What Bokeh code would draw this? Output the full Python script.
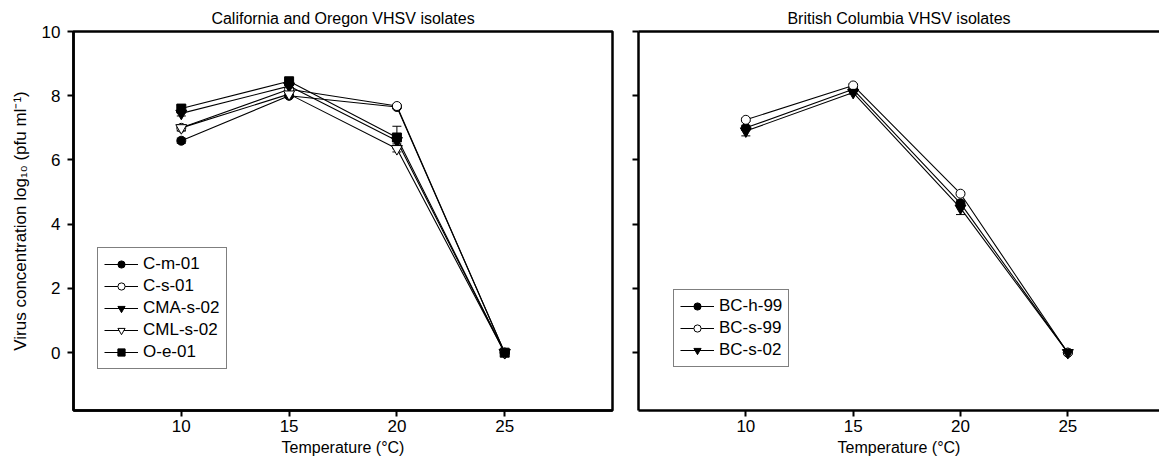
from bokeh.plotting import figure
from bokeh.layouts import row
from bokeh.models import (ColumnDataSource, Whisker, TeeHead, Legend, LegendItem,
                          LinearAxis, Range1d, FixedTicker, CustomJSTickFormatter)
from bokeh.embed import file_html
from bokeh.resources import INLINE

# ---------------- data ----------------
temps = [10, 15, 20, 25]
x_ticks = [10, 15, 20, 25]
y_ticks = [0, 2, 4, 6, 8, 10]

# California and Oregon isolates
cm01 = [6.6, 8.0, 7.65, 0.0]
cs01 = [7.0, 8.2, 7.68, 0.0]
cmas02 = [7.45, 8.3, 6.6, 0.0]
cmls02 = [7.0, 8.05, 6.35, 0.0]
oe01 = [7.6, 8.45, 6.7, 0.0]
cm01_err = [0.08, 0.05, 0.05, 0.0]
cs01_err = [0.08, 0.05, 0.05, 0.0]
cmas02_err = [0.08, 0.05, 0.1, 0.0]
cmls02_err = [0.1, 0.05, 0.1, 0.0]
oe01_err = [0.1, 0.05, 0.35, 0.0]

# British Columbia isolates
bch99 = [7.0, 8.2, 4.65, 0.0]
bcs99 = [7.25, 8.32, 4.95, 0.0]
bcs02 = [6.9, 8.1, 4.5, 0.0]
bch99_err = [0.08, 0.05, 0.1, 0.0]
bcs99_err = [0.05, 0.05, 0.05, 0.0]
bcs02_err = [0.15, 0.05, 0.2, 0.0]

left_series = [
    ("C-m-01", cm01, cm01_err, "circle", "black", 9),
    ("C-s-01", cs01, cs01_err, "circle", "white", 9),
    ("CMA-s-02", cmas02, cmas02_err, "inverted_triangle", "black", 11),
    ("CML-s-02", cmls02, cmls02_err, "inverted_triangle", "white", 11),
    ("O-e-01", oe01, oe01_err, "square", "black", 9),
]
right_series = [
    ("BC-h-99", bch99, bch99_err, "circle", "black", 9),
    ("BC-s-99", bcs99, bcs99_err, "circle", "white", 9),
    ("BC-s-02", bcs02, bcs02_err, "inverted_triangle", "black", 11),
]

FONT = "Liberation Sans"
Y0, Y1 = -1.8, 10


def style_axis(ax, label_size="16px"):
    ax.axis_line_width = 2.5
    ax.axis_line_color = "black"
    ax.major_tick_line_width = 2
    ax.major_tick_in = 0
    ax.major_tick_out = 6
    ax.minor_tick_line_color = None
    ax.major_label_text_font = FONT
    ax.major_label_text_font_size = "17px"
    ax.major_label_text_color = "black"
    ax.axis_label_text_font = FONT
    ax.axis_label_text_font_size = label_size
    ax.axis_label_text_font_style = "normal"
    ax.axis_label_text_color = "black"


def add_series(p, series, loc):
    items = []
    for name, vals, errs, marker, fill, size in series:
        src = ColumnDataSource(dict(
            x=temps, y=vals,
            lo=[v - e for v, e in zip(vals, errs)],
            hi=[v + e for v, e in zip(vals, errs)]))
        w = Whisker(source=src, base="x", lower="lo", upper="hi",
                    line_color="black", line_width=1,
                    upper_head=TeeHead(size=9, line_color="black", line_width=1),
                    lower_head=TeeHead(size=9, line_color="black", line_width=1))
        p.add_layout(w)
        lr = p.line("x", "y", source=src, line_color="black", line_width=1.1)
        sr = p.scatter("x", "y", source=src, marker=marker, size=size,
                       fill_color=fill, line_color="black", line_width=1)
        items.append(LegendItem(label=name, renderers=[lr, sr]))
    leg = Legend(items=items, location=loc)
    leg.label_text_font = FONT
    leg.label_text_font_size = "17px"
    leg.label_text_color = "black"
    leg.glyph_width = 34
    leg.glyph_height = 18
    leg.label_height = 18
    leg.spacing = 2
    leg.padding = 6
    leg.margin = 0
    leg.label_standoff = 5
    leg.border_line_color = "black"
    leg.border_line_width = 1
    leg.background_fill_color = "white"
    leg.background_fill_alpha = 1
    p.add_layout(leg, "center")


def style_title(p, text):
    p.title.text = text
    p.title.align = "center"
    p.title.text_font = FONT
    p.title.text_font_size = "16px"
    p.title.text_font_style = "normal"
    p.title.text_color = "black"


# ---------------- left panel ----------------
pl = figure(width=617, height=458, output_backend="svg", toolbar_location=None,
            x_range=Range1d(5, 30), y_range=Range1d(Y0, Y1),
            min_border_left=73, min_border_right=5, min_border_top=31,
            min_border_bottom=45)
style_title(pl, "California and Oregon VHSV isolates")
pl.grid.visible = False
pl.outline_line_color = "black"
pl.outline_line_width = 2.5
pl.outline_line_alpha = 1
pl.xaxis.ticker = FixedTicker(ticks=x_ticks)
pl.yaxis.ticker = FixedTicker(ticks=y_ticks)
pl.xaxis.axis_label = "Temperature (°C)"
pl.yaxis.axis_label = "Virus concentration log₁₀ (pfu ml⁻¹)"
style_axis(pl.xaxis[0])
style_axis(pl.yaxis[0], label_size="17px")
pl.xaxis.major_label_standoff = 3
pl.xaxis.axis_label_standoff = 4
pl.yaxis.major_label_standoff = 7
pl.yaxis.axis_label_standoff = 9
add_series(pl, left_series, (24, 41))

# ---------------- right panel ----------------
pr = figure(width=542, height=458, output_backend="svg", toolbar_location=None,
            x_range=Range1d(5, 29.27), y_range=Range1d(Y0, Y1),
            min_border_left=21, min_border_right=0, min_border_top=31,
            min_border_bottom=45)
style_title(pr, "British Columbia VHSV isolates")
pr.grid.visible = False
pr.outline_line_color = None
pr.xaxis.ticker = FixedTicker(ticks=x_ticks)
pr.yaxis.ticker = FixedTicker(ticks=y_ticks)
pr.xaxis.axis_label = "Temperature (°C)"
style_axis(pr.xaxis[0])
style_axis(pr.yaxis[0])
pr.yaxis.major_label_overrides = {t: "" for t in y_ticks}
pr.yaxis.major_label_standoff = 0
pr.xaxis.major_label_standoff = 3
pr.xaxis.axis_label_standoff = 4
top_ax = LinearAxis(ticker=FixedTicker(ticks=[]))
top_ax.axis_line_width = 2.5
top_ax.major_tick_line_color = None
top_ax.minor_tick_line_color = None
pr.add_layout(top_ax, "above")
add_series(pr, right_series, (35, 43))

layout = row(pl, pr)
open("out.html", "w").write(file_html(layout, INLINE))
